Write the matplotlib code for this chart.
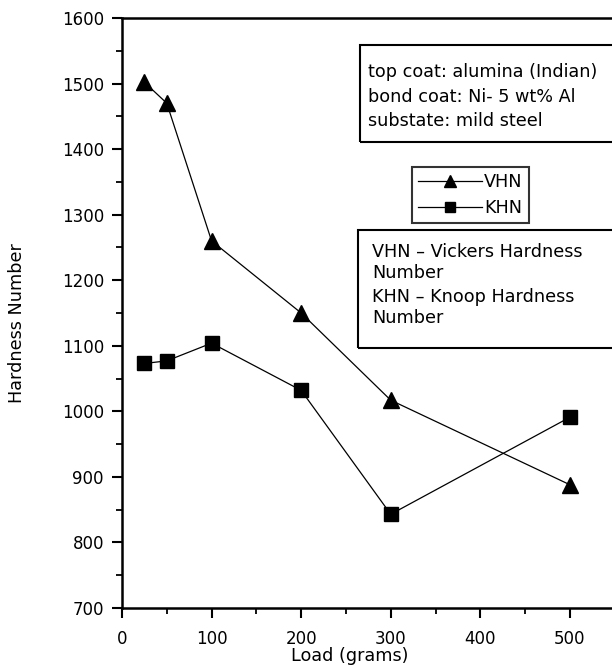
import matplotlib.pyplot as plt
from matplotlib.patches import Rectangle

plt.rcParams['font.family'] = ['DejaVu Sans']

load = [25, 50, 100, 200, 300, 500]
vhn = [1502, 1470, 1260, 1150, 1017, 888]
khn = [1073, 1077, 1104, 1032, 843, 991]

W, H = 612, 668
fs = 12
fs_box = 12.7

fig = plt.figure(figsize=(W / 100, H / 100), dpi=100)
ax = fig.add_axes([122 / W, 1 - 608 / H, 1 - 122 / W, (608 - 18) / H])

ax.plot(load, vhn, color='black', lw=0.9, marker='^', ms=11, label='VHN')
ax.plot(load, khn, color='black', lw=0.9, marker='s', ms=9.5, label='KHN')

ax.set_xlim(0, 547)
ax.set_ylim(700, 1600)
ax.set_xticks([0, 100, 200, 300, 400, 500])
ax.set_xticks(range(50, 550, 100), minor=True)
ax.set_yticks(range(700, 1700, 100))
ax.set_yticks(range(750, 1600, 100), minor=True)
ax.spines['right'].set_visible(False)
for s in ['left', 'bottom', 'top']:
    ax.spines[s].set_linewidth(1.8)
ax.tick_params(which='major', direction='out', length=7, width=1.5, labelsize=fs)
ax.tick_params(which='minor', direction='out', length=4, width=1.3)
ax.tick_params(axis='x', pad=9)
ax.tick_params(axis='y', pad=6)

ax.set_xlabel('Load (grams)', fontsize=fs_box)
ax.xaxis.set_label_coords(350 / W, 1 - 661 / H, transform=fig.transFigure)
ax.xaxis.label.set_va('baseline')
ax.set_ylabel('Hardness Number', fontsize=fs_box)
ax.yaxis.set_label_coords(17 / W, 1 - 323 / H, transform=fig.transFigure)
ax.yaxis.label.set_va('center')

# info box 1
fig.patches.append(Rectangle((360 / W, 1 - 142 / H), 1, 97 / H,
                             transform=fig.transFigure, fill=False, lw=1.5, ec='black'))
for txt, y in [('top coat: alumina (Indian)', 72),
               ('bond coat: Ni- 5 wt% Al', 97),
               ('substate: mild steel', 121)]:
    fig.text(368 / W, 1 - y / H, txt, fontsize=fs_box, va='center')

# info box 2
fig.patches.append(Rectangle((358 / W, 1 - 348 / H), 1, 118 / H,
                             transform=fig.transFigure, fill=False, lw=1.5, ec='black'))
for txt, y in [('VHN – Vickers Hardness', 252), ('Number', 273),
               ('KHN – Knoop Hardness', 297), ('Number', 318)]:
    fig.text(372 / W, 1 - y / H, txt, fontsize=fs_box, va='center')

leg = ax.legend(loc='upper left', bbox_to_anchor=(412 / W, 1 - 167 / H),
                bbox_transform=fig.transFigure, fontsize=fs_box, frameon=True,
                fancybox=False, edgecolor='black', handlelength=3.6, markerscale=0.75,
                handletextpad=0.15, borderpad=0.35, labelspacing=0.45, borderaxespad=0)
leg.get_frame().set_linewidth(1.5)

fig.savefig('out.png', dpi=100)
